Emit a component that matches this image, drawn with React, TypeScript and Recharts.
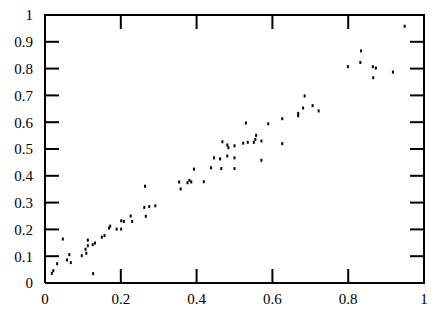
import { ScatterChart, Scatter, XAxis, YAxis } from "recharts";

const xValues = [
  0.018, 0.022, 0.032, 0.047, 0.058, 0.064, 0.068, 0.097, 0.107, 0.109,
  0.113, 0.113, 0.126, 0.127, 0.132, 0.15, 0.157, 0.169, 0.172, 0.189,
  0.201, 0.201, 0.208, 0.226, 0.23, 0.262, 0.264, 0.266, 0.275, 0.291,
  0.354, 0.358, 0.376, 0.381, 0.386, 0.393, 0.419, 0.438, 0.446, 0.462,
  0.465, 0.468, 0.481, 0.484, 0.481, 0.5, 0.5, 0.5, 0.523, 0.53,
  0.535, 0.551, 0.555, 0.557, 0.571, 0.571, 0.589, 0.626, 0.626, 0.668,
  0.668, 0.681, 0.685, 0.706, 0.722, 0.799, 0.832, 0.834, 0.865, 0.873,
  0.866, 0.918, 0.949,
];

const yValues = [
  0.036, 0.046, 0.072, 0.164, 0.086, 0.106, 0.076, 0.102, 0.126, 0.111,
  0.16, 0.139, 0.143, 0.035, 0.149, 0.171, 0.177, 0.205, 0.212, 0.201,
  0.201, 0.232, 0.23, 0.25, 0.23, 0.282, 0.361, 0.249, 0.285, 0.288,
  0.377, 0.351, 0.374, 0.383, 0.377, 0.425, 0.378, 0.43, 0.467, 0.463,
  0.427, 0.527, 0.515, 0.505, 0.474, 0.512, 0.467, 0.427, 0.522, 0.597,
  0.525, 0.525, 0.536, 0.551, 0.53, 0.458, 0.594, 0.613, 0.52, 0.633,
  0.624, 0.653, 0.698, 0.662, 0.642, 0.807, 0.823, 0.866, 0.807, 0.802,
  0.766, 0.787, 0.958,
];

const xTicks = [0, 0.2, 0.4, 0.6, 0.8, 1];
const yTicks = [0, 0.1, 0.2, 0.3, 0.4, 0.5, 0.6, 0.7, 0.8, 0.9, 1];

const points = xValues.map((x, i) => ({ x, y: yValues[i] }));

const W = 437;
const H = 310;
const M = { top: 15, right: 13, bottom: 0, left: 0 };
const Y_AXIS_W = 45;
const X_AXIS_H = 27;
const LEFT = M.left + Y_AXIS_W;
const TOP = M.top;
const RIGHT = W - M.right;
const BOTTOM = H - M.bottom - X_AXIS_H;
const TICK_LEN = 14;
const SERIF = "'Liberation Serif', 'Times New Roman', serif";

const Dot = (p: any) => <rect x={p.cx - 1} y={p.cy - 1.5} width={2} height={3} fill="#000" />;

const px = (v: number) => LEFT + v * (RIGHT - LEFT);
const py = (v: number) => BOTTOM - v * (BOTTOM - TOP);

// top/right frame edges and inward ticks on all four sides
const frame = (
  <g className="frame" stroke="#000" strokeWidth={2} fill="none">
    <path d={`M${LEFT - 1},${TOP}H${RIGHT}V${BOTTOM + 1}`} />
    {yTicks.map((v) => (
      <g key={`y${v}`}>
        <line x1={LEFT} x2={LEFT + TICK_LEN} y1={py(v)} y2={py(v)} />
        <line x1={RIGHT} x2={RIGHT - TICK_LEN} y1={py(v)} y2={py(v)} />
      </g>
    ))}
    {xTicks.map((v) => (
      <g key={`x${v}`}>
        <line x1={px(v)} x2={px(v)} y1={BOTTOM} y2={BOTTOM - TICK_LEN} />
        <line x1={px(v)} x2={px(v)} y1={TOP} y2={TOP + TICK_LEN} />
      </g>
    ))}
  </g>
);

export default function App() {
  return (
    <div style={{ position: "absolute", left: 0, top: 0, width: W, height: H, background: "#fff", fontFamily: SERIF }}>
      <ScatterChart width={W} height={H} margin={M} style={{ fontFamily: SERIF }}>
        <XAxis
          type="number"
          dataKey="x"
          domain={[0, 1]}
          ticks={xTicks}
          height={X_AXIS_H}
          axisLine={{ stroke: "#000", strokeWidth: 2 }}
          tickLine={false}
          tickSize={0}
          tickMargin={10}
          tick={{ fill: "#000", fontSize: 15, fontFamily: SERIF }}
        />
        <YAxis
          type="number"
          dataKey="y"
          domain={[0, 1]}
          ticks={yTicks}
          width={Y_AXIS_W}
          axisLine={{ stroke: "#000", strokeWidth: 2 }}
          tickLine={false}
          tickSize={0}
          tickMargin={12}
          tick={{ fill: "#000", fontSize: 15, fontFamily: SERIF }}
        />
        <Scatter data={points} shape={Dot} isAnimationActive={false} />
        {frame}
      </ScatterChart>
    </div>
  );
}
